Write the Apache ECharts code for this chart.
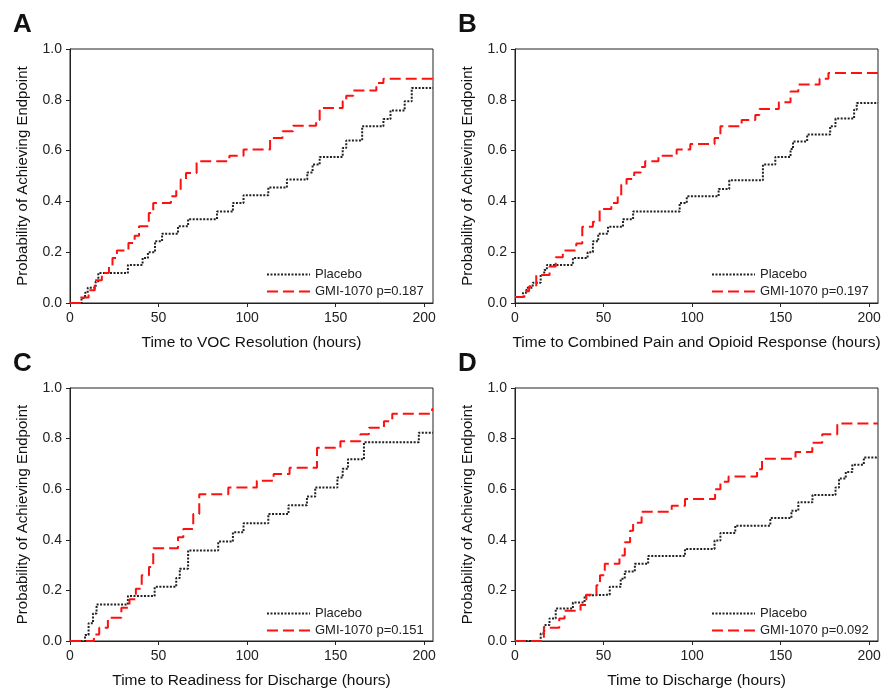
<!DOCTYPE html>
<html><head><meta charset="utf-8">
<script src="https://cdn.jsdelivr.net/npm/echarts@6/dist/echarts.min.js"></script>
<style>html,body{margin:0;padding:0;background:#fff}#c{width:890px;height:690px}</style>
</head><body><div id="c"></div>
<script>
const panelLetters = ['A','B','C','D'];
const xTitles = ['Time to VOC Resolution (hours)','Time to Combined Pain and Opioid Response (hours)','Time to Readiness for Discharge (hours)','Time to Discharge (hours)'];
const yTitle = 'Probability of Achieving Endpoint';
const pValues = ['0.187','0.197','0.151','0.092'];
const xTicks = [0,50,100,150,200];
const yTicks = [0,0.2,0.4,0.6,0.8,1.0];

// [time, probability after step]
const placeboA = [[0,0],[6.5,0.02],[8.5,0.04],[10,0.06],[14.5,0.085],[16,0.118],[32.7,0.15],[41,0.177],[44,0.2],[48,0.243],[52,0.273],[61,0.302],[66.7,0.33],[83,0.36],[92,0.394],[98,0.424],[112,0.455],[122.5,0.486],[134,0.514],[137,0.545],[141,0.575],[154,0.61],[156,0.64],[165,0.696],[177,0.724],[181,0.758],[189,0.794],[193,0.846],[205,0.846]];
const gmiA = [[0,0],[6,0.022],[10.5,0.05],[14,0.09],[18,0.118],[22,0.144],[24,0.177],[26.5,0.207],[33,0.236],[36.5,0.265],[39,0.302],[44.5,0.354],[47,0.394],[57,0.42],[60,0.446],[62.5,0.486],[65.5,0.512],[71.5,0.558],[90,0.58],[98,0.604],[113,0.65],[120,0.676],[126,0.698],[139,0.72],[141,0.768],[154,0.794],[156,0.816],[160,0.837],[173,0.866],[177,0.883],[204.5,0.9],[205,0.9]];
const placeboB = [[0,0.024],[4.5,0.04],[6.5,0.06],[10,0.08],[14.5,0.11],[16.5,0.13],[18,0.15],[32.7,0.177],[41,0.2],[44,0.243],[47,0.273],[52.5,0.3],[61,0.33],[66.7,0.36],[93,0.394],[97,0.42],[115,0.449],[121,0.483],[140,0.545],[147,0.575],[155.6,0.606],[157,0.636],[165,0.663],[178,0.696],[181,0.726],[191.5,0.761],[193,0.787],[205,0.787]];
const gmiB = [[0,0.024],[5.3,0.046],[8,0.066],[12,0.11],[19.5,0.144],[23,0.18],[27,0.207],[34.6,0.234],[38,0.3],[44,0.32],[47.8,0.37],[54.4,0.394],[58,0.42],[60,0.466],[63,0.488],[67.3,0.514],[71,0.535],[73.5,0.558],[81,0.58],[91.3,0.604],[99,0.626],[112.7,0.65],[116,0.696],[128,0.72],[135.7,0.74],[138,0.764],[149,0.79],[155.6,0.833],[160,0.86],[172,0.883],[177,0.906],[205,0.906]];
const placeboC = [[0,0],[8.5,0.024],[10.5,0.07],[13,0.109],[15,0.144],[32.7,0.178],[47.8,0.214],[60,0.249],[62,0.286],[66.7,0.358],[83.7,0.393],[92,0.43],[98,0.465],[112,0.502],[123.4,0.537],[133.8,0.571],[138.5,0.607],[151,0.646],[154,0.681],[157,0.718],[166,0.786],[197,0.823],[205,0.823]];
const gmiC = [[0,0],[13.5,0.026],[16.5,0.052],[21.4,0.092],[29,0.131],[33.6,0.165],[37.2,0.207],[40.5,0.26],[44.6,0.292],[47,0.367],[61,0.41],[64,0.443],[69.6,0.502],[73,0.58],[89.4,0.607],[105.5,0.633],[115,0.66],[124,0.685],[139.5,0.764],[152.7,0.79],[164,0.817],[168.8,0.843],[177.3,0.869],[182,0.898],[204.5,0.917],[205,0.917]];
const placeboD = [[0,0],[14.5,0.03],[16.5,0.063],[19.5,0.089],[23,0.128],[32.7,0.152],[39.3,0.18],[41,0.183],[53.5,0.214],[59.7,0.246],[62,0.275],[67.7,0.305],[75.2,0.336],[96,0.364],[112.7,0.397],[116,0.427],[124.4,0.456],[144.2,0.486],[156.1,0.515],[160,0.548],[168,0.577],[181,0.607],[183,0.642],[186.8,0.668],[190.5,0.697],[197,0.725],[205,0.725]];
const gmiD = [[0,0],[16.3,0.052],[25,0.089],[28,0.12],[37,0.142],[40.3,0.183],[46,0.22],[48,0.26],[50.7,0.305],[59,0.338],[62,0.39],[65,0.436],[66.7,0.467],[71.5,0.511],[88.5,0.535],[96,0.561],[113,0.6],[116,0.629],[120.6,0.65],[136.7,0.679],[139.5,0.72],[158.4,0.747],[167.9,0.784],[173.5,0.817],[182,0.86],[205,0.86]];

const placeboData = [placeboA, placeboB, placeboC, placeboD];
const gmiData = [gmiA, gmiB, gmiC, gmiD];

const gridPos = [
  {left:70, top:49, width:363, height:254},
  {left:515, top:49, width:363, height:254},
  {left:70, top:388, width:363, height:255},
  {left:515, top:388, width:363, height:255}
];
const FONT = 'Liberation Sans, Arial, sans-serif';

const option = {
  animation:false,
  backgroundColor:'#fff',
  title: gridPos.map((g,i)=>({text:panelLetters[i], left:g.left-57, top:g.top-37, padding:0,
    textStyle:{fontFamily:FONT, fontWeight:'bold', fontSize:26, color:'#111'}})),
  grid: gridPos.map(g=>Object.assign({show:true, borderColor:'#222', borderWidth:1, backgroundColor:'transparent'}, g)),
  xAxis: gridPos.map((g,i)=>({type:'value', gridIndex:i, min:0, max:205, interval:50,
    name:xTitles[i], nameLocation:'middle', nameGap:32,
    nameTextStyle:{fontFamily:FONT, fontSize:15.5, color:'#111'},
    axisLine:{show:true, lineStyle:{color:'#222', width:1}},
    axisTick:{show:true, length:4, lineStyle:{color:'#222'}},
    axisLabel:{fontFamily:FONT, fontSize:14, color:'#222', margin:8, showMaxLabel:false,
      formatter:v=>xTicks.includes(v)?String(v):''},
    splitLine:{show:false}})),
  yAxis: gridPos.map((g,i)=>({type:'value', gridIndex:i, min:0, max:1, interval:0.2,
    name:yTitle, nameLocation:'middle', nameGap:40,
    nameTextStyle:{fontFamily:FONT, fontSize:15, color:'#111'},
    axisLine:{show:true, lineStyle:{color:'#222', width:1}},
    axisTick:{show:true, length:4, lineStyle:{color:'#222'}},
    axisLabel:{fontFamily:FONT, fontSize:14, color:'#222', margin:8, formatter:v=>v.toFixed(1)},
    splitLine:{show:false}})),
  legend: gridPos.map((g,i)=>({orient:'vertical', left:g.left+191, top:g.top+214,
    itemWidth:43, itemHeight:12, itemGap:4,
    data:['Placebo', 'GMI-1070 p='+pValues[i]],
    itemStyle:{opacity:0},
    textStyle:{fontFamily:FONT, fontSize:13, color:'#222'}})),
  series: []
};
for (let i=0;i<4;i++){
  option.series.push({name:'Placebo', type:'line', xAxisIndex:i, yAxisIndex:i, step:'end',
    data:placeboData[i], symbol:'none', z:3,
    lineStyle:{color:'#222', width:2, type:[2,1.5]}, itemStyle:{color:'#222'}});
  option.series.push({name:'GMI-1070 p='+pValues[i], type:'line', xAxisIndex:i, yAxisIndex:i, step:'end',
    data:gmiData[i], symbol:'none', z:4,
    lineStyle:{color:'#ff1010', width:2, type:[11,5]}, itemStyle:{color:'#ff1010'}});
}
const chart = echarts.init(document.getElementById('c'), null, {renderer:'canvas'});
chart.setOption(option);
</script></body></html>
